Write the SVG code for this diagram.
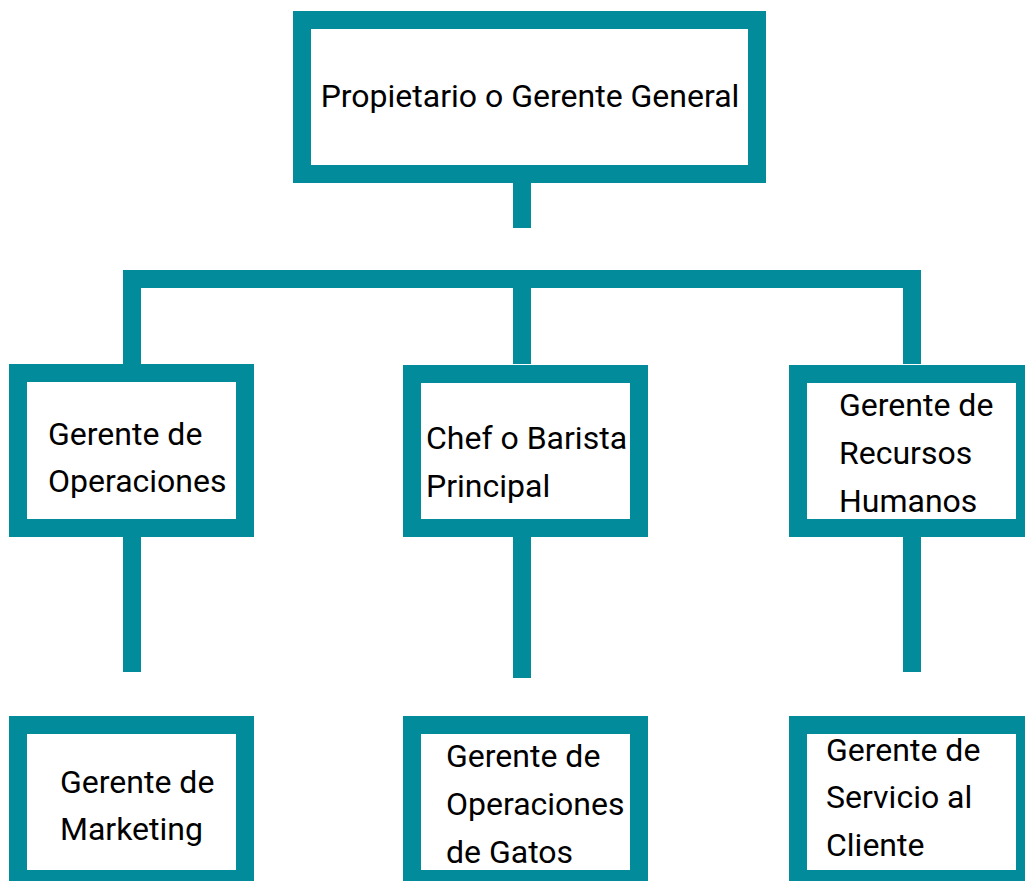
<svg xmlns="http://www.w3.org/2000/svg" width="1025" height="881" viewBox="0 0 1025 881">
<style>
.box{fill:#ffffff;stroke:#028b9b;stroke-width:18}
.con{fill:none;stroke:#028b9b;stroke-width:18;stroke-linecap:butt;stroke-linejoin:miter}
text{font-family:Roboto,"Liberation Sans",sans-serif;font-size:32px;fill:#000000}
</style>
<rect width="1025" height="881" fill="#ffffff"/>
<g id="connectors">
<line class="con" x1="522" y1="183" x2="522" y2="228"/>
<polyline class="con" points="132,364 132,279 912,279 912,364"/>
<line class="con" x1="522" y1="279" x2="522" y2="364"/>
<line class="con" x1="132" y1="537" x2="132" y2="672"/>
<line class="con" x1="522" y1="537" x2="522" y2="678"/>
<line class="con" x1="912" y1="537" x2="912" y2="672"/>
</g>
<g id="n0">
<rect class="box" x="302" y="20" width="455" height="154"/>
<text x="530" y="107" text-anchor="middle">Propietario o Gerente General</text>
</g>
<g id="n1">
<rect class="box" x="18" y="373" width="227" height="155"/>
<text x="48" y="445">Gerente de</text>
<text x="48" y="492">Operaciones</text>
</g>
<g id="n2">
<rect class="box" x="412" y="374" width="227" height="154"/>
<text x="426" y="449">Chef o Barista</text>
<text x="426" y="497">Principal</text>
</g>
<g id="n3">
<rect class="box" x="798" y="374" width="227" height="154"/>
<text x="839" y="416">Gerente de</text>
<text x="839" y="464">Recursos</text>
<text x="839" y="512">Humanos</text>
</g>
<g id="n4">
<rect class="box" x="18" y="725" width="227" height="154"/>
<text x="60" y="793">Gerente de</text>
<text x="60" y="840">Marketing</text>
</g>
<g id="n5">
<rect class="box" x="412" y="725" width="227" height="154"/>
<text x="446" y="767">Gerente de</text>
<text x="446" y="815">Operaciones</text>
<text x="446" y="863">de Gatos</text>
</g>
<g id="n6">
<rect class="box" x="798" y="725" width="227" height="154"/>
<text x="826" y="761">Gerente de</text>
<text x="826" y="808">Servicio al</text>
<text x="826" y="856">Cliente</text>
</g>
</svg>
